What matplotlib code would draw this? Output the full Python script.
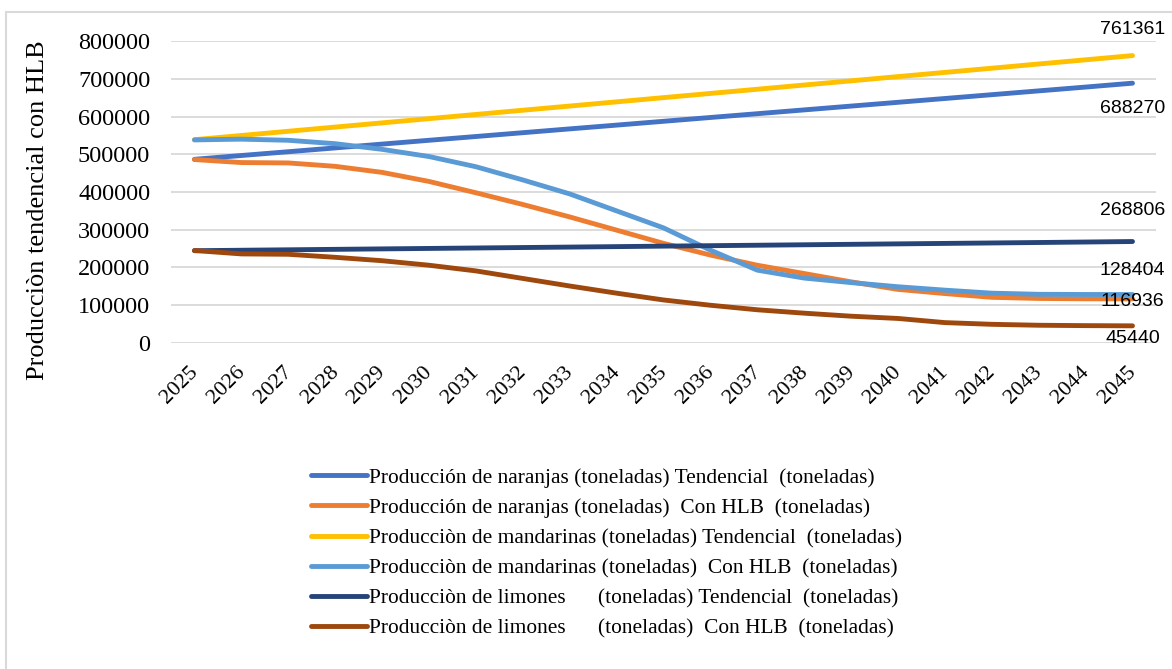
import matplotlib.pyplot as plt
from matplotlib.patches import Rectangle
from matplotlib.transforms import ScaledTranslation

years = [str(y) for y in range(2025, 2046)]

naranjas_tend = [486600, 496700, 506700, 516800, 526900, 537000, 547000, 557100, 567200,
                 577200, 587300, 597400, 607400, 617500, 627600, 637600, 647700, 657800,
                 667900, 678000, 688270]
naranjas_hlb = [486000, 478000, 477000, 468000, 452000, 428000, 398000, 367000, 334000,
                299000, 264000, 233000, 206000, 184000, 162000, 142000, 131000, 121000,
                118000, 117000, 116936]
mandarinas_tend = [538600, 549700, 560900, 572000, 583100, 594300, 605400, 616600, 627700,
                   638800, 650000, 661100, 672200, 683400, 694500, 705700, 716800, 727900,
                   739100, 750200, 761361]
mandarinas_hlb = [538000, 540000, 537000, 528000, 513000, 494000, 467000, 432000, 395000,
                  350000, 305000, 246000, 193000, 172000, 160000, 149000, 140000, 132000,
                  129000, 128500, 128404]
limones_tend = [244500, 245700, 246900, 248100, 249300, 250500, 251700, 252900, 254100,
                255300, 256600, 257800, 259000, 260200, 261400, 262600, 263800, 265000,
                266200, 267500, 268806]
limones_hlb = [245000, 236000, 235000, 227000, 218000, 206000, 191000, 171000, 151000,
               132000, 114000, 100000, 88000, 79000, 71000, 65000, 54000, 49500,
               47000, 46000, 45440]

series = [
    ("Producción de naranjas (toneladas) Tendencial  (toneladas)", naranjas_tend, "#4472C4"),
    ("Producción de naranjas (toneladas)  Con HLB  (toneladas)", naranjas_hlb, "#ED7D31"),
    ("Producciòn de mandarinas (toneladas) Tendencial  (toneladas)", mandarinas_tend, "#FFC000"),
    ("Producciòn de mandarinas (toneladas)  Con HLB  (toneladas)", mandarinas_hlb, "#5B9BD5"),
    ("Producciòn de limones      (toneladas) Tendencial  (toneladas)", limones_tend, "#264478"),
    ("Producciòn de limones      (toneladas)  Con HLB  (toneladas)", limones_hlb, "#9E480E"),
]

# end labels: (value, vertical offset in points)
end_labels = [
    (mandarinas_tend[-1], 19),
    (naranjas_tend[-1], -18),
    (limones_tend[-1], 22),
    (mandarinas_hlb[-1], 17.5),
    (naranjas_hlb[-1], -2),
    (limones_hlb[-1], -9),
]

serif = ['Liberation Serif', 'DejaVu Serif']
sans = ['Liberation Sans', 'DejaVu Sans']

fig = plt.figure(figsize=(11.72, 6.69), dpi=100)
ax = fig.add_axes([0.1459, 0.4873, 0.8404, 0.4514])

x = list(range(len(years)))
for label, vals, color in series:
    ax.plot(x, vals, color=color, lw=3.5, label=label, solid_capstyle='round',
            solid_joinstyle='round')

for val, dy in end_labels:
    ax.annotate(f"{val}", (x[-1], val), xytext=(0, dy), textcoords='offset points',
                ha='center', va='center', fontsize=14, family=sans, annotation_clip=False)

ax.set_xlim(-0.5, len(years) - 0.5)
ax.set_ylim(0, 800000)
ax.set_yticks(range(0, 800001, 100000))
ax.set_yticklabels([str(v) for v in range(0, 800001, 100000)], family=serif, fontsize=17.5)
ax.set_xticks(x)
ax.set_xticklabels(years, rotation=45, ha='right', va='top', rotation_mode='anchor',
                   family=serif, fontsize=16)
ax.tick_params(length=0)
ax.tick_params(axis='y', pad=15)
ax.tick_params(axis='x', pad=9)
shift = ScaledTranslation(-0.06, -0.07, fig.dpi_scale_trans)
for lbl in ax.get_xticklabels():
    lbl.set_transform(lbl.get_transform() + shift)
ax.grid(axis='y', color='#D9D9D9', lw=1.3)
ax.set_axisbelow(True)
for s in ax.spines.values():
    s.set_visible(False)

fig.text(0.032, 0.686, "Producciòn tendencial con HLB", rotation=90, ha='center',
         va='center', family=serif, fontsize=19)

fig.legend(loc='upper left', bbox_to_anchor=(0.2654, 0.301), frameon=False,
           prop={'family': serif, 'size': 15.4}, handlelength=2.6, handletextpad=0.1,
           labelspacing=0.48, borderpad=0, borderaxespad=0)

fig.patches.append(Rectangle((0.0055, -0.05), 1.2, 1.032, transform=fig.transFigure,
                             fill=False, edgecolor='#D9D9D9', lw=1.5))

fig.savefig("out.png", dpi=100)
